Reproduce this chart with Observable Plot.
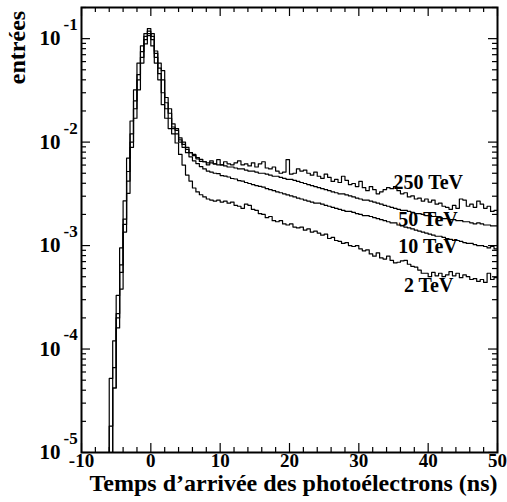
<!DOCTYPE html>
<html><head><meta charset="utf-8">
<script src="https://cdn.jsdelivr.net/npm/d3@7"></script>
<script src="https://cdn.jsdelivr.net/npm/@observablehq/plot@0.6"></script>
<style>body{margin:0;background:#fff}</style>
</head><body><div id="chart"></div>
<script>
// Histogram bins: 0.5 ns wide, first bin starts at -6.5 ns
const binStart = -6.5, binWidth = 0.5;

const s2 = [
  0, 5.2e-5, 1.2e-4, 3.3e-4, 9.5e-4, 2.7e-3, 7.0e-3, 1.6e-2, 3.2e-2, 5.8e-2,
  8.5e-2, 0.105, 0.118, 8.5e-2, 5.8e-2, 4.0e-2, 2.3e-2, 1.7e-2, 1.35e-2, 1.2e-2,
  9.8e-3, 7.6e-3, 6.0e-3, 4.8e-3, 4.2e-3, 3.6e-3, 3.3e-3, 3.1e-3, 2.95e-3, 2.82e-3,
  2.75e-3, 2.69e-3, 2.75e-3, 2.63e-3, 2.69e-3, 2.57e-3, 2.63e-3, 2.45e-3, 2.40e-3, 2.29e-3,
  2.51e-3, 2.45e-3, 2.24e-3, 2.19e-3, 2.04e-3, 2.00e-3, 1.86e-3, 1.91e-3, 1.74e-3, 1.70e-3,
  1.74e-3, 1.62e-3, 1.58e-3, 1.62e-3, 1.51e-3, 1.48e-3, 1.51e-3, 1.41e-3, 1.45e-3, 1.35e-3,
  1.38e-3, 1.32e-3, 1.26e-3, 1.29e-3, 1.17e-3, 1.20e-3, 1.12e-3, 1.10e-3, 1.05e-3, 1.07e-3,
  1.00e-3, 0.98e-3, 1.00e-3, 0.93e-3, 0.89e-3, 0.91e-3, 0.83e-3, 0.79e-3, 0.85e-3, 0.76e-3,
  0.74e-3, 0.79e-3, 0.72e-3, 0.68e-3, 0.69e-3, 0.71e-3, 0.72e-3, 0.66e-3, 0.63e-3, 0.62e-3,
  0.58e-3, 0.54e-3, 0.54e-3, 0.50e-3, 0.55e-3, 0.51e-3, 0.54e-3, 0.50e-3, 0.52e-3, 0.56e-3,
  0.51e-3, 0.54e-3, 0.49e-3, 0.52e-3, 0.50e-3, 0.47e-3, 0.48e-3, 0.45e-3, 0.47e-3, 0.44e-3,
  0.54e-3, 0.47e-3, 0.49e-3
];

const s10 = [
  0, 1.8e-5, 6.6e-5, 2.2e-4, 6.5e-4, 1.8e-3, 5.2e-3, 1.2e-2, 2.5e-2, 4.5e-2,
  7.5e-2, 0.112, 0.125, 9.8e-2, 6.6e-2, 4.6e-2, 3.0e-2, 2.1e-2, 1.7e-2, 1.35e-2,
  1.2e-2, 1.0e-2, 8.9e-3, 7.9e-3, 7.2e-3, 6.6e-3, 6.2e-3, 5.8e-3, 5.5e-3, 5.25e-3,
  5.13e-3, 5.0e-3, 4.95e-3, 4.75e-3, 4.7e-3, 4.6e-3, 4.45e-3, 4.4e-3, 4.25e-3, 4.2e-3,
  4.07e-3, 3.98e-3, 3.89e-3, 3.80e-3, 3.74e-3, 3.68e-3, 3.55e-3, 3.47e-3, 3.39e-3, 3.31e-3,
  3.24e-3, 3.16e-3, 3.09e-3, 3.02e-3, 2.95e-3, 2.88e-3, 2.82e-3, 2.75e-3, 2.69e-3, 2.63e-3,
  2.57e-3, 2.57e-3, 2.51e-3, 2.45e-3, 2.40e-3, 2.34e-3, 2.29e-3, 2.24e-3, 2.19e-3, 2.14e-3,
  2.14e-3, 2.09e-3, 2.04e-3, 2.00e-3, 1.95e-3, 1.95e-3, 1.91e-3, 1.86e-3, 1.82e-3, 1.78e-3,
  1.74e-3, 1.70e-3, 1.66e-3, 1.66e-3, 1.58e-3, 1.55e-3, 1.51e-3, 1.48e-3, 1.45e-3, 1.41e-3,
  1.38e-3, 1.35e-3, 1.32e-3, 1.29e-3, 1.26e-3, 1.23e-3, 1.23e-3, 1.20e-3, 1.17e-3, 1.15e-3,
  1.12e-3, 1.12e-3, 1.10e-3, 1.07e-3, 1.05e-3, 1.05e-3, 1.02e-3, 1.00e-3, 1.00e-3, 0.98e-3,
  0.95e-3, 0.98e-3, 0.93e-3
];

const s50 = [
  0, 0, 4.2e-5, 1.6e-4, 3.8e-4, 1.35e-3, 3.2e-3, 8.9e-3, 1.7e-2, 3.2e-2,
  5.8e-2, 8.9e-2, 0.107, 0.112, 7.6e-2, 5.8e-2, 4.9e-2, 2.7e-2, 2.1e-2, 1.5e-2,
  1.35e-2, 1.1e-2, 9.5e-3, 8.5e-3, 7.9e-3, 7.4e-3, 7.1e-3, 6.8e-3, 6.46e-3, 6.3e-3,
  6.3e-3, 6.17e-3, 6.03e-3, 6.03e-3, 5.89e-3, 5.75e-3, 5.75e-3, 5.62e-3, 5.5e-3, 5.5e-3,
  5.37e-3, 5.25e-3, 5.25e-3, 5.13e-3, 5.0e-3, 5.0e-3, 4.9e-3, 4.79e-3, 4.68e-3, 4.68e-3,
  4.57e-3, 4.47e-3, 4.37e-3, 4.37e-3, 4.27e-3, 4.17e-3, 4.07e-3, 3.98e-3, 3.89e-3, 3.80e-3,
  3.72e-3, 3.63e-3, 3.55e-3, 3.47e-3, 3.39e-3, 3.31e-3, 3.24e-3, 3.16e-3, 3.16e-3, 3.09e-3,
  3.02e-3, 2.95e-3, 2.88e-3, 2.82e-3, 2.75e-3, 2.75e-3, 2.69e-3, 2.63e-3, 2.57e-3, 2.51e-3,
  2.45e-3, 2.40e-3, 2.34e-3, 2.29e-3, 2.24e-3, 2.19e-3, 2.19e-3, 2.14e-3, 2.09e-3, 2.04e-3,
  2.04e-3, 2.00e-3, 1.95e-3, 1.95e-3, 1.91e-3, 1.91e-3, 1.86e-3, 1.82e-3, 1.82e-3, 1.78e-3,
  1.78e-3, 1.74e-3, 1.74e-3, 1.70e-3, 1.70e-3, 1.66e-3, 1.62e-3, 1.66e-3, 1.62e-3, 1.58e-3,
  1.58e-3, 1.55e-3, 1.55e-3
];

const s250 = [
  0, 0, 4.2e-5, 2.0e-4, 5.5e-4, 1.6e-3, 4.2e-3, 1.0e-2, 2.1e-2, 4.0e-2,
  6.6e-2, 9.8e-2, 0.112, 0.105, 7.2e-2, 5.2e-2, 4.0e-2, 2.4e-2, 1.9e-2, 1.4e-2,
  1.3e-2, 1.05e-2, 1.0e-2, 8.9e-3, 7.9e-3, 7.6e-3, 6.9e-3, 6.5e-3, 6.46e-3, 6.03e-3,
  6.6e-3, 6.17e-3, 6.76e-3, 6.03e-3, 6.46e-3, 6.17e-3, 6.03e-3, 6.3e-3, 6.6e-3, 6.03e-3,
  6.17e-3, 5.89e-3, 6.3e-3, 5.75e-3, 6.17e-3, 6.46e-3, 5.62e-3, 5.5e-3, 5.75e-3, 5.25e-3,
  5.0e-3, 5.13e-3, 6.76e-3, 4.9e-3, 5.0e-3, 5.5e-3, 5.25e-3, 5.37e-3, 5.0e-3, 4.79e-3,
  5.13e-3, 4.68e-3, 4.47e-3, 4.9e-3, 4.57e-3, 4.17e-3, 4.37e-3, 4.07e-3, 4.68e-3, 4.27e-3,
  3.89e-3, 3.98e-3, 3.72e-3, 4.17e-3, 3.63e-3, 3.39e-3, 3.72e-3, 3.47e-3, 3.16e-3, 3.31e-3,
  3.47e-3, 3.63e-3, 3.55e-3, 3.72e-3, 3.39e-3, 3.16e-3, 3.24e-3, 2.95e-3, 3.02e-3, 2.82e-3,
  2.88e-3, 2.69e-3, 2.82e-3, 2.63e-3, 2.75e-3, 2.51e-3, 2.57e-3, 2.40e-3, 2.34e-3, 2.24e-3,
  2.45e-3, 2.29e-3, 2.82e-3, 2.75e-3, 2.40e-3, 2.51e-3, 2.34e-3, 2.69e-3, 2.51e-3, 2.29e-3,
  2.40e-3, 2.14e-3, 2.19e-3
];

const seriesNames = ["2 TeV", "10 TeV", "50 TeV", "250 TeV"];
const seriesValues = [s2, s10, s50, s250];

const xTicks = [-10, 0, 10, 20, 30, 40, 50];
const yDecades = [1e-5, 1e-4, 1e-3, 1e-2, 1e-1];
const yExponents = ["-5", "-4", "-3", "-2", "-1"];
const xTitle = "Temps d\u2019arrivée des photoélectrons (ns)";
const yTitle = "entrées";

// label anchor points (data coordinates) for the series names
const labelX = [36.5, 35.7, 35.7, 35.0];
const labelY = [4.1e-4, 9.8e-4, 1.78e-3, 4.06e-3];

const yMin = 1e-5, yMax = 0.2, xMin = -10, xMax = 50;
const W = 507, H = 502, mL = 81, mR = 10, mT = 7, mB = 50;
const plotW = W - mL - mR, plotH = H - mT - mB;

const rows = [];
seriesValues.forEach((arr, k) => {
  arr.forEach((v, i) => rows.push({series: seriesNames[k], t: binStart + i * binWidth, v: Math.max(v, yMin)}));
  rows.push({series: seriesNames[k], t: binStart + arr.length * binWidth, v: Math.max(arr[arr.length - 1], yMin)});
});

const xMinor = d3.range(xMin, xMax + 0.001, 2).filter(d => d % 10 !== 0);
const yMinor = [];
for (const d of yDecades) for (let k = 2; k <= 9; k++) if (k * d <= yMax) yMinor.push(k * d);

const labels = seriesNames.map((n, i) => ({name: n, x: labelX[i], y: labelY[i]}));

const font = "'Liberation Serif', 'Times New Roman', serif";

const chart = Plot.plot({
  width: W, height: H,
  marginLeft: mL, marginRight: mR, marginTop: mT, marginBottom: mB,
  style: {fontFamily: font, fontWeight: "bold", background: "#fff", overflow: "visible", color: "black"},
  x: {domain: [xMin, xMax], axis: null},
  y: {type: "log", domain: [yMin, yMax], axis: null},
  marks: [
    Plot.line(rows, {x: "t", y: "v", z: "series", curve: "step-after", stroke: "black", strokeWidth: 1.2, clip: true}),
    // inward ticks: bottom/top
    Plot.ruleX(xTicks, {x: d => d, insetTop: plotH - 9, stroke: "black", strokeWidth: 1.2}),
    Plot.ruleX(xTicks, {x: d => d, insetBottom: plotH - 9, stroke: "black", strokeWidth: 1.2}),
    Plot.ruleX(xMinor, {x: d => d, insetTop: plotH - 5, stroke: "black", strokeWidth: 1.2}),
    Plot.ruleX(xMinor, {x: d => d, insetBottom: plotH - 5, stroke: "black", strokeWidth: 1.2}),
    // inward ticks: left/right
    Plot.ruleY(yDecades, {y: d => d, insetRight: plotW - 9, stroke: "black", strokeWidth: 1.2}),
    Plot.ruleY(yDecades, {y: d => d, insetLeft: plotW - 9, stroke: "black", strokeWidth: 1.2}),
    Plot.ruleY(yMinor, {y: d => d, insetRight: plotW - 5, stroke: "black", strokeWidth: 1.2}),
    Plot.ruleY(yMinor, {y: d => d, insetLeft: plotW - 5, stroke: "black", strokeWidth: 1.2}),
    Plot.frame({stroke: "black", strokeWidth: 2}),
    // tick labels
    Plot.text(xTicks, {x: d => d, frameAnchor: "bottom", lineAnchor: "middle", dy: 8, text: d => String(d), fontSize: 19, fill: "black"}),
    Plot.text(yDecades, {y: d => d, frameAnchor: "left", lineAnchor: "middle", dx: -21, textAnchor: "end", text: () => "10", fontSize: 21, fill: "black"}),
    Plot.text(yDecades, {y: d => d, frameAnchor: "left", lineAnchor: "middle", dx: -18, dy: -14, textAnchor: "start", text: (d, i) => yExponents[i], fontSize: 17, fill: "black"}),
    // series labels
    Plot.text(labels, {x: "x", y: "y", text: "name", textAnchor: "start", lineAnchor: "middle", fontSize: 20, fill: "black"}),
    // axis titles
    Plot.text([xTitle], {frameAnchor: "bottom-right", lineAnchor: "middle", dy: 31, textAnchor: "end", text: d => d, fontSize: 24, fill: "black"}),
    Plot.text([yTitle], {frameAnchor: "top-left", lineAnchor: "middle", dx: -64, dy: 40, rotate: -90, textAnchor: "middle", text: d => d, fontSize: 24, fill: "black"})
  ]
});
document.getElementById("chart").appendChild(chart);
</script>
</body></html>
